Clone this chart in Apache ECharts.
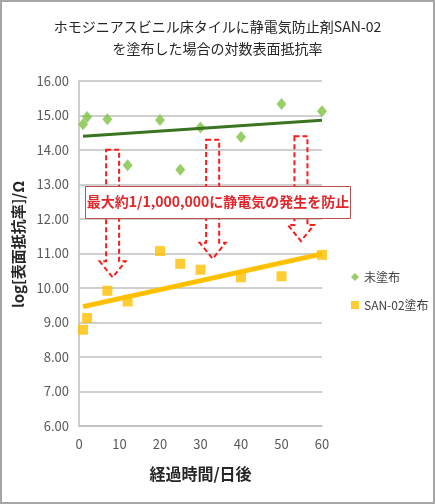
<!DOCTYPE html>
<html><head><meta charset="utf-8">
<script src="https://cdn.jsdelivr.net/npm/echarts@6/dist/echarts.min.js"></script>
<style>
html,body{margin:0;padding:0;background:#fff;}
#c{width:435px;height:504px;box-sizing:border-box;border:2px solid #a6a6a6;}
</style></head>
<body><div id="c"></div>
<script>
var days = [1, 2, 7, 12, 20, 25, 30, 40, 50, 60];
var uncoated = [14.75, 14.96, 14.89, 13.56, 14.87, 13.43, 14.65, 14.38, 15.33, 15.12];
var coated = [8.79, 9.13, 9.92, 9.61, 11.07, 10.70, 10.53, 10.31, 10.34, 10.96];
var trendUncoatedX = [1, 60];
var trendUncoatedY = [14.40, 14.86];
var trendCoatedX = [1, 60];
var trendCoatedY = [9.46, 10.99];
var arrowX = [8.3, 33.0, 54.8];
var arrowTop = [14.01, 14.30, 14.40];
var arrowTip = [10.31, 10.85, 11.36];
var seriesNames = ['未塗布', 'SAN-02塗布'];
var titleText = 'ホモジニアスビニル床タイルに静電気防止剤SAN-02\nを塗布した場合の対数表面抵抗率';
var noteText = '最大約1/1,000,000に静電気の発生を防止';
var xName = '経過時間/日後';
var yName = 'log[表面抵抗率]/Ω';

var FF = '"Noto Sans CJK JP", "Noto Sans", sans-serif';
function pairs(xs, ys){ return xs.map(function(x,i){ return [x, ys[i]]; }); }

var chart = echarts.init(document.getElementById('c'), null, {renderer:'canvas'});
chart.setOption({
  animation: false,
  textStyle: {fontFamily: FF},
  title: {
    text: titleText, left: 'center', top: 9,
    textStyle: {fontFamily: FF, fontSize: 14, fontWeight: 'normal', color: '#262626', lineHeight: 22}
  },
  grid: {left: 77, right: 111, top: 79, bottom: 76},
  legend: {
    orient: 'vertical', left: 344, top: 262,
    data: seriesNames, itemWidth: 8, itemHeight: 8, itemGap: 12, itemStyle: {borderWidth: 0},
    textStyle: {fontFamily: FF, fontSize: 12, color: '#404040', lineHeight: 16}
  },
  xAxis: {
    type: 'value', min: 0, max: 60, interval: 10,
    name: xName, nameLocation: 'middle', nameGap: 40,
    nameTextStyle: {fontFamily: FF, fontSize: 16, fontWeight: 'bold', color: '#262626'},
    axisLine: {show: true, lineStyle: {color: '#bfbfbf', width: 1.5}},
    axisTick: {show: false},
    axisLabel: {color: '#595959', fontSize: 13, margin: 12},
    splitLine: {show: false}
  },
  yAxis: {
    type: 'value', min: 6, max: 16, interval: 1,
    name: yName, nameLocation: 'middle', nameGap: 50,
    nameTextStyle: {fontFamily: FF, fontSize: 15, fontWeight: 'bold', color: '#262626', padding: [0,0,0,18]},
    axisLine: {show: true, lineStyle: {color: '#bfbfbf', width: 1.5}},
    axisTick: {show: false},
    axisLabel: {color: '#595959', fontSize: 13, margin: 10, formatter: function(v){ return v.toFixed(2); }},
    splitLine: {show: true, lineStyle: {color: '#bfbfbf', width: 1.5}}
  },
  series: [
    {
      name: seriesNames[0], type: 'scatter', symbol: 'diamond', symbolSize: [10, 12],
      itemStyle: {color: '#7dc242'}, data: pairs(days, uncoated), z: 3
    },
    {
      name: seriesNames[1], type: 'scatter', symbol: 'rect', symbolSize: 10,
      itemStyle: {color: '#ffc000'}, data: pairs(days, coated), z: 3
    },
    {
      name: 'trend1', type: 'line', showSymbol: false, symbol: 'none',
      lineStyle: {color: '#3a7420', width: 3}, data: pairs(trendUncoatedX, trendUncoatedY), z: 4
    },
    {
      name: 'trend2', type: 'line', showSymbol: false, symbol: 'none',
      lineStyle: {color: '#ffc000', width: 5}, data: pairs(trendCoatedX, trendCoatedY), z: 4
    },
    {
      name: 'arrows', type: 'custom', z: 5,
      encode: {x: 0, y: [1, 2]},
      data: arrowX.map(function(x,i){ return [x, arrowTop[i], arrowTip[i]]; }),
      renderItem: function(params, api){
        var top = api.coord([api.value(0), api.value(1)]);
        var tip = api.coord([api.value(0), api.value(2)]);
        var cx = top[0], sw = 6.5, hw = 13, hl = 16;
        var ht = tip[1] - hl;
        return {
          type: 'polygon',
          shape: {points: [[cx-sw, top[1]], [cx+sw, top[1]], [cx+sw, ht], [cx+hw, ht], [cx, tip[1]], [cx-hw, ht], [cx-sw, ht]]},
          style: {fill: 'none', stroke: '#ff1a1a', lineWidth: 2, lineDash: [5, 3]}
        };
      }
    }
  ],
  graphic: [
    {type: 'rect', left: 83, top: 184, z: 100, shape: {width: 265, height: 32},
     style: {fill: '#ffffff', stroke: '#c0504d', lineWidth: 1}},
    {type: 'text', x: 216, y: 200, z: 101,
     style: {text: noteText, fill: '#e3262a', fontSize: 14, fontWeight: 'bold', fontFamily: FF, align: 'center', verticalAlign: 'middle'}}
  ]
});
</script></body></html>
